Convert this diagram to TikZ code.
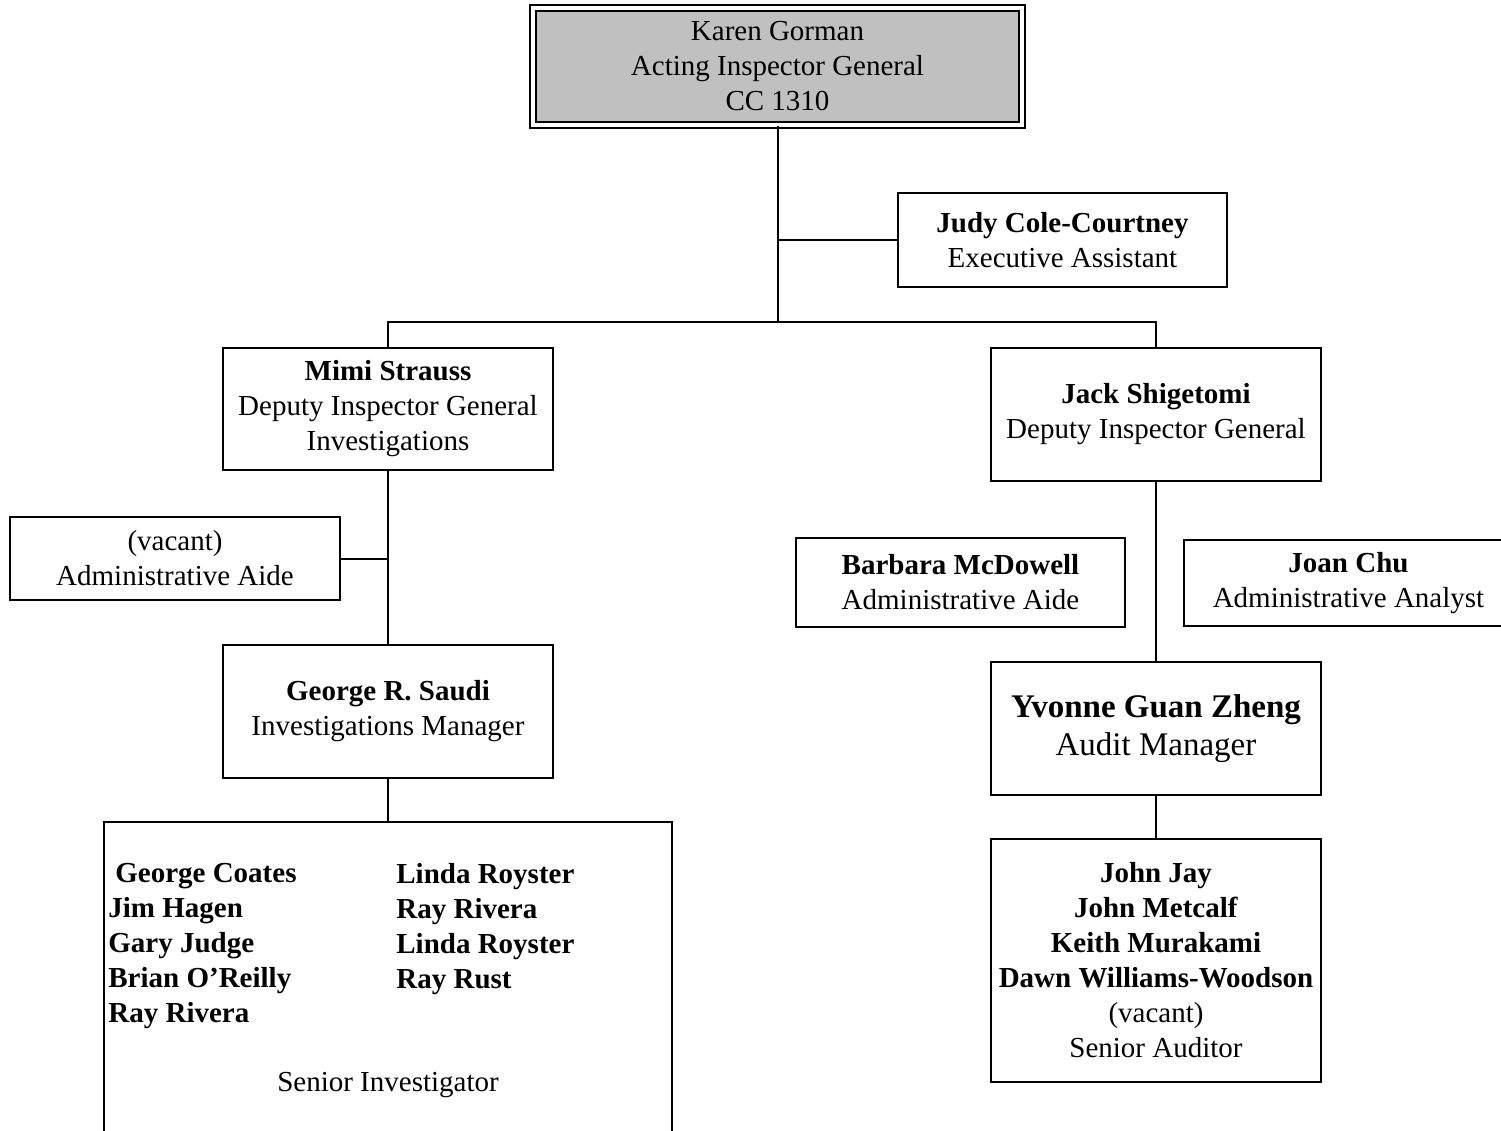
\documentclass[tikz,border=0pt]{standalone}
\usepackage{fontspec}
\setmainfont{Liberation Serif}
\usetikzlibrary{positioning}
\definecolor{boxgray}{HTML}{C0C0C0}
\newcommand{\orgfont}{\fontsize{14.5}{17.5}\selectfont}
\newcommand{\bigorgfont}{\fontsize{16.5}{19}\selectfont}

\begin{document}
\begin{tikzpicture}[x=0.5pt, y=-0.5pt,
  orgbox/.style={draw, line width=1pt, inner sep=0pt, align=center, font=\orgfont,
    minimum width=165pt},
  topbox/.style={orgbox, fill=boxgray, double, double distance=2pt},
  namelist/.style={inner sep=0pt, align=left, font=\orgfont\bfseries, anchor=west},
  link/.style={line width=1pt}]
  \clip (0,0) rectangle (1501,1131);
  % head of office
  \node[topbox, minimum width=244.5pt, minimum height=58.5pt] (top) at (777.5,66.5)
    {Karen Gorman\\Acting Inspector General\\CC 1310};
  \node[orgbox, minimum width=164.5pt, minimum height=47pt] (judy) at (1062.5,240)
    {\textbf{Judy Cole-Courtney}\\Executive Assistant};
  \coordinate (split) at (777.5,322);
  % investigations side
  \node[orgbox, minimum height=61pt] (mimi) at (388,409)
    {\textbf{Mimi Strauss}\\Deputy Inspector General\\Investigations};
  \node[orgbox, minimum height=41.5pt] (aide) at (175,558.5)
    {(vacant)\\Administrative Aide};
  \node[orgbox, minimum height=66.5pt] (george) at (388,711.5)
    {\textbf{George R. Saudi}\\Investigations Manager};
  \node[orgbox, minimum width=284pt, minimum height=189pt] (inv) at (388,1011) {};
  \node[namelist] (invleft) at (108,946)
    {\hspace{3.5pt}George Coates\\Jim Hagen\\Gary Judge\\Brian O'Reilly\\Ray Rivera};
  \node[namelist] (invright) at (396,929)
    {Linda Royster\\Ray Rivera\\Linda Royster\\Ray Rust};
  \node[font=\orgfont, inner sep=0pt] (invtitle) at (388,1085) {Senior Investigator};
  % audit side
  \node[orgbox, minimum height=66.5pt] (jack) at (1156,414.5)
    {\textbf{Jack Shigetomi}\\Deputy Inspector General};
  \node[orgbox, minimum width=164.5pt, minimum height=44.5pt] (barbara) at (960.5,582.5)
    {\textbf{Barbara McDowell}\\Administrative Aide};
  \node[orgbox, minimum width=164.5pt, minimum height=43pt] (joan) at (1348.5,583)
    {\textbf{Joan Chu}\\Administrative Analyst};
  \node[orgbox, font=\bigorgfont, minimum height=66.5pt] (yvonne) at (1156,728.5)
    {\textbf{Yvonne Guan Zheng}\\Audit Manager};
  \node[orgbox, minimum height=121.5pt] (audit) at (1156,960.5)
    {\textbf{John Jay}\\\textbf{John Metcalf}\\\textbf{Keith Murakami}\\
     \textbf{Dawn Williams-Woodson}\\(vacant)\\Senior Auditor};
  % lines
  \draw[link] (top.south) -- (split);
  \draw[link] (judy.west) -- (judy.west -| split);
  \draw[link] (mimi.north) |- (split) -| (jack.north);
  \draw[link] (mimi.south) -- (george.north);
  \draw[link] (aide.east) -- (aide.east -| mimi.south);
  \draw[link] (george.south) -- (inv.north);
  \draw[link] (jack.south) -- (yvonne.north);
  \draw[link] (yvonne.south) -- (audit.north);
\end{tikzpicture}
\end{document}
